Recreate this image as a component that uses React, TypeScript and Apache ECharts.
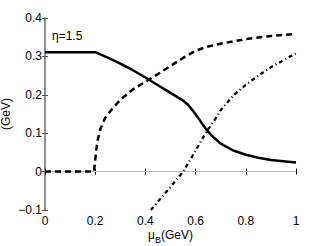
import React, { useEffect, useRef } from "react";
import * as echarts from "echarts";

const xTicks = [0, 0.2, 0.4, 0.6, 0.8, 1];
const yTicks = [-0.1, 0, 0.1, 0.2, 0.3, 0.4];

// solid curve
const solidX = [0, 0.2, 0.25, 0.3, 0.35, 0.4, 0.45, 0.5, 0.55, 0.57, 0.59, 0.61, 0.63, 0.65, 0.67, 0.7, 0.75, 0.8, 0.85, 0.9, 0.95, 1.0];
const solidY = [0.311, 0.311, 0.297, 0.281, 0.264, 0.245, 0.225, 0.205, 0.185, 0.174, 0.158, 0.14, 0.121, 0.104, 0.09, 0.073, 0.055, 0.044, 0.036, 0.03, 0.027, 0.024];

// dashed curve
const dashX = [0, 0.195, 0.2, 0.205, 0.21, 0.22, 0.24, 0.265, 0.3, 0.35, 0.4, 0.45, 0.5, 0.55, 0.6, 0.65, 0.7, 0.75, 0.8, 0.85, 0.9, 0.95, 1.0];
const dashY = [0, 0, 0.03, 0.06, 0.082, 0.11, 0.14, 0.161, 0.187, 0.214, 0.234, 0.254, 0.275, 0.296, 0.315, 0.326, 0.333, 0.339, 0.345, 0.349, 0.353, 0.356, 0.358];

// dash-dot curve
const ddX = [0.422, 0.45, 0.5, 0.551, 0.6, 0.644, 0.664, 0.7, 0.75, 0.8, 0.85, 0.9, 0.95, 1.0];
const ddY = [-0.1, -0.078, -0.04, 0, 0.055, 0.105, 0.122, 0.16, 0.198, 0.226, 0.25, 0.272, 0.29, 0.308];

const zip = (xs: number[], ys: number[]) => xs.map((x, i) => [x, ys[i]]);

const FONT = "Liberation Sans";

export default function App() {
  const ref = useRef<HTMLDivElement>(null);
  useEffect(() => {
    if (!ref.current) return;
    const chart = echarts.init(ref.current, undefined, { renderer: "svg" });
    const fmt = (v: number) => (Math.abs(v) < 1e-9 ? "0" : v < 0 ? "\u2212" + String(Math.round(-v * 10) / 10) : String(Math.round(v * 10) / 10));
    chart.setOption({
      animation: false,
      backgroundColor: "#fff",
      textStyle: { fontFamily: FONT },
      grid: { left: 45, right: 31, top: 18, bottom: 36, containLabel: false, outerBoundsMode: "none" },
      xAxis: [
        {
          type: "value",
          min: xTicks[0],
          max: xTicks[xTicks.length - 1],
          interval: 0.2,
          position: "bottom",
          axisLine: { lineStyle: { color: "#000", width: 1 } },
          axisTick: { inside: true, length: 3, lineStyle: { color: "#000" } },
          axisLabel: { color: "#000", fontSize: 12, fontFamily: FONT, margin: 5, formatter: fmt },
          splitLine: { show: false },
          name: "{m|\u03bc}{s|B}{m|(GeV)}",
          nameLocation: "middle",
          nameGap: 19,
          nameMoveOverlap: false,
          nameTextStyle: {
            rich: {
              m: { fontSize: 12, fontFamily: FONT, color: "#000", verticalAlign: "top" },
              s: { fontSize: 9, fontFamily: FONT, color: "#000", padding: [6, 0, 0, 0], verticalAlign: "top" },
            },
          },
        },
        {
          type: "value",
          min: 0,
          max: 1,
          interval: 0.2,
          position: "top",
          axisLine: { show: true, lineStyle: { color: "#000", width: 1 } },
          axisTick: { show: true, inside: true, length: 3, lineStyle: { color: "#000" } },
          axisLabel: { show: false },
          splitLine: { show: false },
        },
      ],
      yAxis: [
        {
          type: "value",
          min: yTicks[0],
          max: yTicks[yTicks.length - 1],
          interval: 0.1,
          position: "left",
          axisLine: { show: true, lineStyle: { color: "#888", width: 1.5 } },
          axisTick: { show: true, inside: true, length: 3, lineStyle: { color: "#555" } },
          axisLabel: { color: "#000", fontSize: 12, fontFamily: FONT, margin: 3, formatter: fmt },
          splitLine: { show: false },
          name: "(GeV)",
          nameLocation: "middle",
          nameGap: 33,
          nameMoveOverlap: false,
          nameTextStyle: { fontSize: 12, fontFamily: FONT, color: "#000" },
        },
        {
          type: "value",
          min: -0.1,
          max: 0.4,
          interval: 0.1,
          position: "right",
          axisLine: { show: true, lineStyle: { color: "#888", width: 1.5 } },
          axisTick: { show: true, inside: true, length: 3, lineStyle: { color: "#555" } },
          axisLabel: { show: false },
          splitLine: { show: false },
        },
      ],
      graphic: [
        {
          type: "text",
          left: 52,
          top: 30,
          style: { text: "\u03b7=1.5", fontSize: 12, fontFamily: FONT, fill: "#000" },
        },
      ],
      series: [
        {
          type: "line",
          data: zip(solidX, solidY),
          showSymbol: false,
          smooth: false,
          lineStyle: { color: "#000", width: 2.5, type: "solid" },
          markLine: {
            silent: true,
            symbol: "none",
            label: { show: false },
            lineStyle: { color: "#bbb", width: 1, type: "solid" },
            data: [{ yAxis: 0 }],
            z: 1,
          },
          z: 3,
        },
        {
          type: "line",
          data: zip(dashX, dashY),
          showSymbol: false,
          lineStyle: { color: "#000", width: 2.5, type: [6, 4] },
          z: 3,
        },
        {
          type: "line",
          data: zip(ddX, ddY),
          showSymbol: false,
          lineStyle: { color: "#000", width: 2.3, type: [4, 3, 1, 3] },
          z: 3,
        },
      ],
    });
    return () => chart.dispose();
  }, []);
  return <div ref={ref} style={{ width: 327, height: 246, position: "absolute", left: 0, top: 0 }} />;
}
